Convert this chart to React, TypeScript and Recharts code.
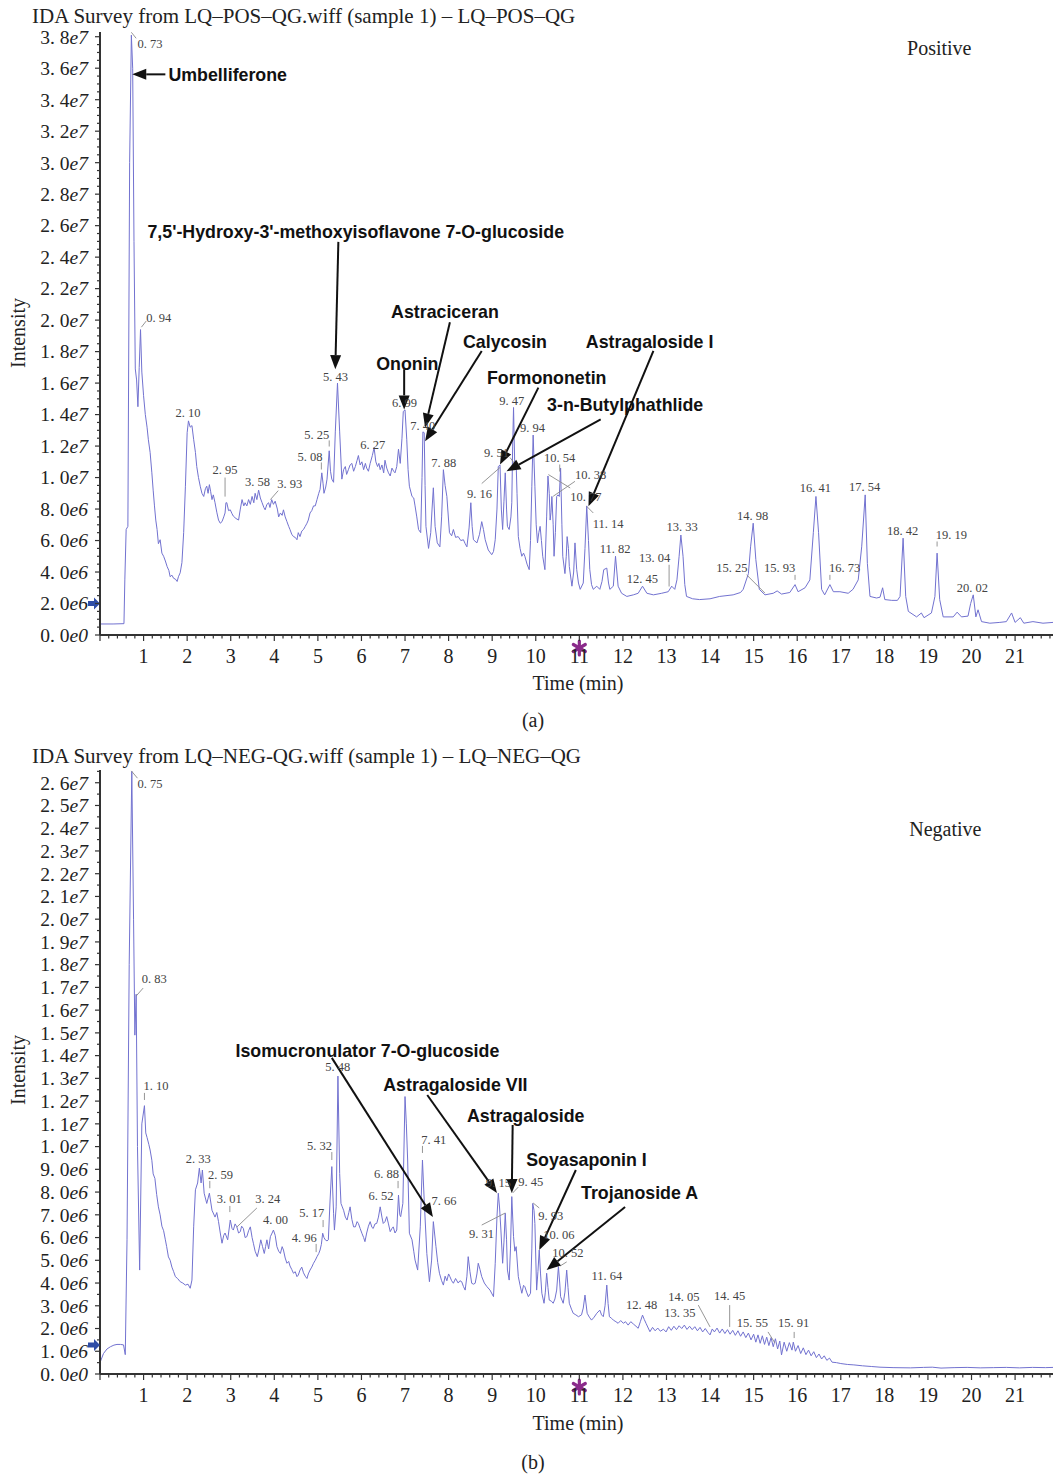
import React from 'react';
import { LineChart, Line, XAxis, YAxis, ReferenceDot, ReferenceLine } from 'recharts';

type Pt = [number, number];

// ---------- data: retention time (min), intensity (x1e6 counts) ----------
const posTrace: Pt[] = [
  [0,0.7],[0.3,0.7],[0.55,0.72],[0.57,3.5],[0.6,6.7],[0.64,6.9],[0.68,30],[0.72,38.1],[0.75,36],[0.78,25],[0.81,16.9],[0.84,16.2],[0.87,14.5],[0.9,17],[0.93,19.4],[0.96,16.7],[1.0,15.2],[1.04,14.0],[1.08,13.2],[1.11,12.4],[1.15,11.6],[1.19,10.3],[1.22,9.2],[1.25,8.2],[1.28,7.3],[1.31,6.7],[1.34,5.8],[1.38,6.05],[1.42,5.2],[1.46,5.0],[1.5,4.7],[1.54,4.35],[1.58,4.1],[1.61,3.7],[1.65,3.8],[1.69,3.6],[1.73,3.55],[1.77,3.4],[1.8,3.7],[1.84,3.95],[1.88,4.6],[1.92,6.5],[1.96,9.45],[2.0,12.85],[2.03,13.6],[2.07,13.2],[2.11,13.3],[2.15,12.4],[2.19,11.6],[2.22,10.7],[2.26,10.0],[2.3,9.45],[2.34,9.0],[2.38,8.8],[2.42,9.3],[2.45,9.45],[2.48,9.0],[2.51,9.55],[2.54,9.1],[2.57,8.6],[2.6,8.9],[2.64,8.4],[2.68,7.8],[2.72,7.3],[2.76,7.1],[2.8,7.2],[2.84,7.5],[2.87,7.75],[2.89,8.4],[2.91,8.4],[2.95,7.9],[2.99,7.95],[3.03,7.7],[3.06,7.55],[3.12,7.4],[3.18,7.3],[3.22,8.0],[3.26,8.6],[3.3,8.2],[3.33,8.4],[3.37,8.2],[3.41,8.6],[3.45,8.3],[3.49,8.8],[3.53,8.4],[3.56,9.0],[3.6,8.6],[3.64,9.2],[3.68,8.7],[3.72,8.4],[3.76,8.1],[3.79,7.95],[3.83,8.3],[3.87,8.4],[3.9,8.1],[3.94,8.6],[3.98,8.3],[4.02,8.5],[4.07,8.0],[4.1,7.5],[4.14,7.75],[4.18,7.6],[4.21,7.95],[4.25,7.5],[4.29,7.2],[4.33,6.9],[4.36,6.7],[4.4,6.4],[4.44,6.25],[4.48,6.2],[4.52,6.05],[4.55,6.5],[4.59,6.25],[4.63,6.6],[4.67,6.7],[4.71,6.9],[4.75,7.1],[4.78,7.3],[4.82,7.75],[4.86,7.9],[4.9,8.2],[4.94,8.2],[4.98,8.6],[5.02,9.0],[5.05,9.25],[5.09,10.3],[5.12,9.6],[5.14,9.0],[5.18,9.4],[5.21,9.9],[5.26,11.7],[5.29,10.4],[5.32,9.9],[5.36,9.7],[5.4,12.9],[5.45,16.0],[5.5,12.9],[5.55,9.9],[5.59,10.5],[5.63,10.7],[5.66,10.2],[5.7,10.5],[5.74,10.8],[5.78,10.9],[5.82,10.4],[5.86,10.7],[5.9,11.1],[5.93,11.4],[5.97,10.8],[6.01,11.0],[6.05,10.5],[6.09,10.9],[6.12,10.6],[6.16,10.4],[6.2,10.9],[6.25,11.4],[6.29,11.9],[6.33,11.0],[6.37,10.7],[6.4,10.9],[6.43,10.5],[6.47,10.8],[6.51,10.3],[6.54,11.1],[6.58,10.6],[6.62,10.3],[6.66,10.1],[6.7,10.6],[6.74,10.4],[6.77,10.3],[6.81,10.7],[6.85,11.8],[6.89,10.9],[6.93,12.5],[6.96,14.2],[7.0,14.3],[7.04,12.4],[7.07,10.5],[7.1,9.45],[7.16,8.8],[7.2,8.7],[7.23,8.2],[7.27,7.5],[7.31,6.7],[7.36,6.5],[7.39,10.0],[7.41,12.9],[7.44,12.85],[7.46,9.5],[7.48,6.9],[7.54,5.5],[7.59,6.5],[7.62,8.0],[7.65,9.35],[7.69,6.9],[7.74,5.85],[7.8,5.6],[7.84,7.5],[7.88,10.5],[7.92,9.5],[7.96,8.8],[8.02,6.5],[8.07,6.3],[8.11,6.7],[8.16,6.2],[8.22,6.25],[8.28,6.0],[8.34,6.05],[8.38,5.8],[8.42,5.6],[8.47,6.8],[8.51,8.4],[8.54,6.9],[8.57,6.05],[8.65,5.85],[8.71,6.4],[8.76,7.2],[8.8,6.7],[8.84,6.05],[8.91,5.4],[8.99,5.1],[9.03,5.3],[9.07,6.05],[9.11,8.0],[9.14,10.7],[9.18,10.8],[9.21,8.0],[9.24,6.7],[9.27,8.5],[9.3,10.3],[9.33,8.0],[9.35,6.9],[9.39,6.7],[9.43,7.5],[9.45,8.4],[9.47,12.0],[9.49,14.45],[9.52,10.5],[9.55,10.9],[9.57,9.0],[9.6,6.25],[9.64,5.5],[9.68,5.0],[9.72,5.2],[9.75,5.0],[9.8,4.5],[9.85,4.15],[9.88,6.0],[9.91,9.45],[9.94,12.7],[9.98,9.45],[10.01,7.0],[10.04,5.85],[10.07,6.5],[10.1,6.9],[10.13,6.0],[10.16,5.0],[10.21,4.15],[10.25,7.5],[10.28,10.1],[10.31,9.0],[10.33,7.3],[10.35,7.8],[10.37,8.8],[10.4,7.0],[10.42,5.0],[10.45,6.5],[10.48,8.8],[10.51,8.9],[10.54,8.8],[10.57,10.6],[10.6,7.0],[10.62,5.0],[10.67,3.9],[10.7,5.0],[10.72,6.25],[10.75,5.5],[10.77,4.35],[10.83,3.1],[10.87,4.0],[10.9,5.85],[10.94,4.15],[10.98,3.3],[11.02,2.9],[11.09,3.3],[11.13,5.5],[11.17,8.2],[11.21,6.0],[11.24,4.15],[11.28,3.2],[11.32,2.9],[11.4,3.1],[11.47,2.9],[11.52,3.4],[11.56,4.15],[11.63,4.25],[11.67,3.3],[11.7,2.9],[11.78,3.1],[11.83,5.0],[11.89,3.1],[11.97,2.65],[12.09,2.45],[12.24,2.55],[12.35,2.65],[12.45,3.1],[12.55,2.65],[12.7,2.55],[12.89,2.65],[13.04,2.75],[13.12,3.1],[13.19,2.9],[13.24,3.5],[13.29,5.0],[13.33,6.35],[13.38,5.0],[13.42,3.2],[13.46,2.45],[13.6,2.3],[13.76,2.25],[14.0,2.3],[14.22,2.45],[14.53,2.55],[14.7,2.7],[14.76,2.9],[14.88,3.9],[14.93,5.6],[14.99,7.1],[15.05,4.8],[15.13,2.9],[15.26,2.55],[15.45,2.65],[15.54,2.8],[15.64,2.6],[15.83,2.7],[15.95,3.2],[16.02,2.75],[16.18,3.0],[16.29,3.5],[16.37,6.5],[16.43,8.8],[16.49,6.5],[16.56,2.9],[16.63,2.55],[16.75,3.2],[16.83,2.75],[16.98,2.75],[17.17,2.65],[17.28,2.9],[17.4,3.5],[17.48,5.6],[17.56,8.9],[17.61,4.55],[17.67,2.45],[17.82,2.35],[17.9,2.4],[17.96,3.0],[18.01,2.25],[18.17,2.2],[18.3,2.2],[18.36,2.45],[18.43,6.15],[18.49,2.45],[18.55,1.5],[18.74,1.15],[18.85,1.4],[18.91,1.1],[19.08,1.4],[19.16,2.45],[19.21,5.2],[19.27,2.25],[19.35,1.15],[19.58,1.15],[19.67,1.45],[19.77,1.15],[19.92,1.2],[19.98,2.0],[20.04,2.55],[20.1,1.15],[20.15,1.6],[20.23,0.85],[20.42,0.75],[20.65,0.8],[20.8,0.85],[20.92,1.4],[21.0,0.8],[21.12,1.1],[21.2,0.75],[21.41,0.85],[21.64,0.75],[21.87,0.8]
];

const negTrace: Pt[] = [
  [0,1.8],[0.01,0.55],[0.08,0.9],[0.16,1.1],[0.24,1.2],[0.32,1.27],[0.39,1.3],[0.47,1.3],[0.54,1.28],[0.58,0.85],[0.62,5.9],[0.67,18],[0.73,26.5],[0.77,20],[0.8,14.9],[0.83,16.7],[0.86,10],[0.91,4.57],[0.96,11.0],[1.02,11.8],[1.05,10.6],[1.08,10.4],[1.12,10.1],[1.15,9.85],[1.19,9.4],[1.22,8.8],[1.26,8.6],[1.3,7.9],[1.34,7.35],[1.38,7.0],[1.42,6.5],[1.46,6.3],[1.5,5.9],[1.53,5.6],[1.57,5.15],[1.61,5.0],[1.65,4.7],[1.69,4.5],[1.73,4.28],[1.78,4.2],[1.84,4.06],[1.9,4.0],[1.96,3.91],[2.02,3.95],[2.07,3.77],[2.11,4.13],[2.15,6.5],[2.19,8.1],[2.24,8.4],[2.28,9.05],[2.32,8.4],[2.35,8.97],[2.39,7.95],[2.45,7.5],[2.51,7.95],[2.57,7.2],[2.64,6.9],[2.68,7.1],[2.72,6.7],[2.76,6.2],[2.8,5.75],[2.84,6.1],[2.87,6.2],[2.93,5.9],[2.99,6.77],[3.03,6.4],[3.06,6.33],[3.1,6.6],[3.14,6.47],[3.18,6.2],[3.22,6.26],[3.25,6.5],[3.29,6.4],[3.33,6.0],[3.37,6.04],[3.41,6.3],[3.45,6.47],[3.49,6.0],[3.52,5.75],[3.56,5.4],[3.61,5.16],[3.65,5.5],[3.69,5.9],[3.73,5.6],[3.77,5.3],[3.8,5.6],[3.83,5.9],[3.87,5.5],[3.91,6.04],[3.95,6.2],[3.98,6.33],[4.02,6.1],[4.06,5.6],[4.1,5.4],[4.14,5.3],[4.18,5.6],[4.21,5.45],[4.25,5.1],[4.29,4.87],[4.33,4.95],[4.36,4.75],[4.4,4.6],[4.44,4.43],[4.48,4.5],[4.52,4.28],[4.55,4.35],[4.59,4.57],[4.63,4.7],[4.67,4.45],[4.71,4.3],[4.75,4.2],[4.78,4.4],[4.82,4.57],[4.86,4.7],[4.9,4.87],[4.94,5.0],[4.98,5.16],[5.02,5.3],[5.05,5.45],[5.08,5.7],[5.11,6.19],[5.14,6.0],[5.17,5.9],[5.21,5.85],[5.24,5.9],[5.28,7.65],[5.32,9.12],[5.36,7.07],[5.38,6.33],[5.42,7.35],[5.46,13.1],[5.5,8.82],[5.53,7.5],[5.56,7.35],[5.59,7.2],[5.63,6.9],[5.67,6.77],[5.71,7.1],[5.74,7.35],[5.78,6.8],[5.82,6.47],[5.86,6.47],[5.9,6.7],[5.93,6.62],[5.97,6.4],[6.01,6.19],[6.05,6.0],[6.08,5.82],[6.12,6.2],[6.16,6.5],[6.2,6.7],[6.24,6.45],[6.27,6.4],[6.31,6.6],[6.35,6.62],[6.39,6.9],[6.43,7.35],[6.47,6.9],[6.5,6.62],[6.54,6.7],[6.58,6.92],[6.62,6.6],[6.66,6.26],[6.7,6.4],[6.73,6.47],[6.77,6.2],[6.81,6.33],[6.85,7.87],[6.88,7.0],[6.9,6.92],[6.95,7.5],[7.0,12.2],[7.03,11.0],[7.06,9.41],[7.1,6.19],[7.16,5.9],[7.2,5.4],[7.23,5.01],[7.29,4.57],[7.35,6.47],[7.4,9.41],[7.44,7.65],[7.5,5.3],[7.56,4.06],[7.61,5.01],[7.65,6.7],[7.71,5.6],[7.75,4.9],[7.79,4.43],[7.84,4.1],[7.88,3.91],[7.92,4.3],[7.96,4.1],[8.0,4.4],[8.03,4.28],[8.07,4.1],[8.11,3.99],[8.16,4.2],[8.22,4.0],[8.26,4.1],[8.3,4.06],[8.34,3.85],[8.38,3.69],[8.42,4.3],[8.45,5.16],[8.49,4.5],[8.53,3.99],[8.57,3.95],[8.61,3.99],[8.65,4.4],[8.68,4.87],[8.72,4.6],[8.76,4.28],[8.82,4.0],[8.88,3.84],[8.95,3.69],[9.03,3.4],[9.07,4.87],[9.11,6.92],[9.14,7.95],[9.17,7.3],[9.2,6.33],[9.24,4.87],[9.27,5.8],[9.3,7.07],[9.33,5.9],[9.35,4.57],[9.39,4.13],[9.42,5.5],[9.45,7.8],[9.49,6.04],[9.52,5.4],[9.55,5.6],[9.6,4.28],[9.64,3.9],[9.68,3.55],[9.72,3.9],[9.75,3.84],[9.79,3.6],[9.83,3.4],[9.88,3.55],[9.91,5.5],[9.93,7.5],[9.96,7.2],[9.98,6.62],[10.02,3.69],[10.05,4.5],[10.08,5.45],[10.11,4.4],[10.14,3.55],[10.19,3.11],[10.22,3.6],[10.25,4.43],[10.28,3.8],[10.31,3.25],[10.36,3.2],[10.4,3.11],[10.44,3.3],[10.48,3.69],[10.52,4.72],[10.55,4.0],[10.57,3.4],[10.63,3.11],[10.67,3.6],[10.71,4.57],[10.74,3.8],[10.77,3.11],[10.82,2.85],[10.86,2.67],[10.92,2.6],[10.98,2.52],[11.05,2.6],[11.09,2.9],[11.13,3.47],[11.18,2.67],[11.23,2.5],[11.28,2.37],[11.34,2.5],[11.4,2.67],[11.47,2.81],[11.51,2.6],[11.55,2.52],[11.59,3.0],[11.63,3.91],[11.66,3.1],[11.69,2.52],[11.74,2.45],[11.78,2.37],[11.84,2.3],[11.89,2.23],[11.95,2.35],[12.01,2.23],[12.06,2.3],[12.12,2.15],[12.18,2.3],[12.24,2.2],[12.3,2.1],[12.35,2.01],[12.4,2.3],[12.45,2.59],[12.49,2.4],[12.53,2.23],[12.62,1.86],[12.68,2.05],[12.74,1.9],[12.8,2.02],[12.86,1.88],[12.93,1.97],[12.99,1.85],[13.05,2.08],[13.11,1.92],[13.17,2.1],[13.23,1.95],[13.29,2.12],[13.35,2.0],[13.41,2.15],[13.47,1.96],[13.53,2.1],[13.59,1.95],[13.65,2.08],[13.71,1.9],[13.77,2.05],[13.83,1.85],[13.89,2.0],[13.95,1.83],[14.0,1.72],[14.05,1.98],[14.1,1.85],[14.16,2.02],[14.22,1.8],[14.28,1.98],[14.34,1.78],[14.4,1.95],[14.46,1.75],[14.52,1.92],[14.58,1.7],[14.64,1.9],[14.7,1.66],[14.76,1.85],[14.82,1.6],[14.88,1.8],[14.94,1.5],[15.0,1.75],[15.05,1.4],[15.1,1.72],[15.15,1.35],[15.2,1.68],[15.25,1.3],[15.3,1.62],[15.35,1.25],[15.4,1.6],[15.45,1.2],[15.5,1.55],[15.55,1.1],[15.6,1.45],[15.64,0.84],[15.7,1.4],[15.76,1.0],[15.82,1.38],[15.88,1.05],[15.91,1.4],[15.96,1.0],[16.02,1.25],[16.08,0.9],[16.14,1.15],[16.2,0.85],[16.26,1.05],[16.32,0.8],[16.38,0.98],[16.44,0.72],[16.5,0.88],[16.56,0.66],[16.62,0.8],[16.68,0.6],[16.74,0.7],[16.8,0.52],[16.9,0.5],[17.0,0.46],[17.15,0.42],[17.3,0.4],[17.5,0.36],[17.7,0.33],[17.9,0.3],[18.2,0.28],[18.6,0.27],[18.9,0.29],[19.1,0.3],[19.3,0.26],[19.6,0.28],[19.9,0.29],[20.2,0.27],[20.5,0.28],[20.8,0.29],[21.1,0.27],[21.4,0.29],[21.7,0.28],[21.87,0.29]
];

const timeTicks = [1,2,3,4,5,6,7,8,9,10,11,12,13,14,15,16,17,18,19,20,21];
const posIntensityTicks = [0,2,4,6,8,10,12,14,16,18,20,22,24,26,28,30,32,34,36,38];
const negIntensityTicks = [0,1,2,3,4,5,6,7,8,9,10,11,12,13,14,15,16,17,18,19,20,21,22,23,24,25,26];

// peak labels: [text, time, intensity]
const posPeakLabels: [string, number, number][] = [
  ['0. 73',0.86,37.58],['0. 94',1.06,20.19],['2. 10',1.73,14.14],['2. 95',2.58,10.51],['3. 58',3.33,9.75],['3. 93',4.07,9.62],
  ['5. 08',4.53,11.34],['5. 25',4.69,12.74],['5. 43',5.12,16.43],['6. 27',5.97,12.1],['6. 99',6.70,14.78],['7. 40',7.12,13.31],
  ['7. 88',7.60,10.96],['9. 16',8.42,8.98],['9. 51',8.81,11.59],['9. 47',9.16,14.9],['9. 94',9.64,13.18],['10. 54',10.19,11.27],
  ['10. 38',10.90,10.19],['10. 77',10.79,8.79],['11. 14',11.31,7.07],['11. 82',11.47,5.48],['13. 04',12.37,4.9],['12. 45',12.09,3.57],
  ['13. 33',13.0,6.88],['14. 98',14.62,7.58],['15. 25',14.14,4.27],['15. 93',15.24,4.27],['16. 41',16.06,9.36],['16. 73',16.73,4.27],
  ['17. 54',17.19,9.43],['18. 42',18.06,6.62],['19. 19',19.18,6.37],['20. 02',19.66,2.99]
];
const negPeakLabels: [string, number, number][] = [
  ['0. 75',0.86,25.95],['0. 83',0.96,17.37],['1. 10',1.0,12.66],['2. 33',1.97,9.45],['2. 59',2.48,8.75],['3. 01',2.68,7.7],
  ['3. 24',3.56,7.7],['4. 00',3.74,6.77],['5. 17',4.57,7.08],['4. 96',4.40,5.98],['5. 32',4.75,10.03],['5. 48',5.17,13.5],
  ['6. 88',6.29,8.8],['6. 52',6.16,7.83],['7. 41',7.37,10.29],['7. 66',7.61,7.61],['9. 31',8.47,6.16],['9. 15',8.86,8.4],
  ['9. 45',9.60,8.44],['9. 93',10.06,6.95],['10. 06',10.17,6.11],['10. 52',10.38,5.32],['11. 64',11.28,4.31],['12. 48',12.07,3.03],
  ['14. 05',13.04,3.39],['13. 35',12.95,2.68],['14. 45',14.09,3.43],['15. 55',14.61,2.24],['15. 91',15.56,2.24]
];

// leader lines: [t1, i1, t2, i2]
const posLeaders: [number, number, number, number][] = [
  [0.72,38.28,0.83,37.9],[0.95,19.55,1.06,19.94],[2.87,10.0,2.87,8.79],[3.91,8.6,4.09,9.17],[5.08,10.96,5.08,10.51],
  [5.26,12.36,5.26,11.97],[8.76,9.62,9.18,10.64],[9.41,11.27,9.55,10.76],[10.55,10.83,10.55,10.38],[10.29,10.19,10.79,9.34],
  [10.40,8.81,10.90,9.76],[11.17,8.17,11.32,7.75],[13.06,4.46,13.06,3.08],[14.84,3.82,15.26,2.66],[15.95,3.82,15.95,3.5],
  [16.75,3.82,16.75,3.5],[19.21,5.94,19.21,5.62]
];
const negLeaders: [number, number, number, number][] = [
  [0.72,26.52,0.86,26.2],[0.83,16.62,0.99,16.97],[1.02,12.36,1.02,12.05],[2.52,8.49,2.52,8.17],[2.98,7.39,2.98,7.12],
  [3.6,7.3,3.14,6.46],[5.12,6.77,5.12,6.46],[4.96,5.72,4.96,5.36],[5.32,9.76,5.32,9.41],[6.84,8.49,6.84,8.17],
  [7.40,10.03,7.40,9.72],[8.76,6.55,9.30,7.08],[9.47,7.96,9.60,8.22],[9.94,7.52,10.08,7.3],[10.56,4.75,10.71,4.93],
  [13.73,3.03,14.0,2.07],[14.45,3.03,14.45,2.07],[15.33,1.85,15.49,1.36],[15.93,1.85,15.93,1.58]
];

// compounds: [name, textT, textI, fromT, fromI, toT, toI]
const posCompounds: [string, number, number, number, number, number, number][] = [
  ['Umbelliferone',1.57,35.61,1.50,35.61,0.74,35.61],
  ["7,5'-Hydroxy-3'-methoxyisoflavone 7-O-glucoside",1.09,25.61,5.47,24.97,5.40,16.88],
  ['Astraciceran',6.68,20.51,8.03,19.87,7.46,13.18],
  ['Calycosin',8.33,18.66,8.76,18.04,7.46,12.31],
  ['Ononin',6.34,17.26,6.98,16.88,6.98,14.33],
  ['Formononetin',8.88,16.37,10.06,15.71,9.18,10.83],
  ['3-n-Butylphathlide',10.26,14.65,11.49,13.69,9.33,10.40],
  ['Astragaloside I',11.15,18.66,12.70,18.04,11.21,8.17]
];
const negCompounds: [string, number, number, number, number, number, number][] = [
  ['Isomucronulator 7-O-glucoside',3.11,14.2,5.32,13.9,7.64,6.9],
  ['Astragaloside VII',6.50,12.71,7.51,12.27,9.11,7.96],
  ['Astragaloside',8.42,11.35,9.47,10.95,9.45,7.96],
  ['Soyasaponin I',9.78,9.45,10.92,8.97,10.08,5.45],
  ['Trojanoside A',11.04,7.96,12.05,7.34,10.25,4.57]
];

// ---------- styling ----------
const SERIF = "'Liberation Serif', 'Times New Roman', serif";
const SANS = "'Liberation Sans', Arial, sans-serif";
const AXIS = '#333';
const TRACE = '#7272d0';
const X_MAX = 21.87;

function sciLabel(v: number): [string, string] {
  if (v === 0) return ['0. 0', 'e0'];
  const raw = v * 1e6;
  const exp = Math.floor(Math.log10(raw) + 1e-9);
  const mant = raw / Math.pow(10, exp);
  return [mant.toFixed(1).replace('.', '. '), 'e' + exp];
}

const isIn = (v: number, arr: number[]) => arr.some((a) => Math.abs(a - v) < 1e-6);

const arrowShape = (p: any) => {
  const { x1, y1, x2, y2 } = p;
  const dx = x2 - x1;
  const dy = y2 - y1;
  const len = Math.hypot(dx, dy) || 1;
  const ux = dx / len;
  const uy = dy / len;
  const hl = 14;
  const hw = 5.5;
  const bx = x2 - ux * hl;
  const by = y2 - uy * hl;
  return (
    <g>
      <line x1={x1} y1={y1} x2={bx} y2={by} stroke="#111" strokeWidth={2} />
      <polygon points={`${x2},${y2} ${bx - uy * hw},${by + ux * hw} ${bx + uy * hw},${by - ux * hw}`} fill="#111" />
    </g>
  );
};

interface ChromProps {
  trace: Pt[];
  yMax: number;
  yMajor: number[];
  yMinorStep: number;
  peaks: [string, number, number][];
  leaders: [number, number, number, number][];
  compounds: [string, number, number, number, number, number, number][];
  mode: string;
  modeAt: [number, number];
  markerY: number;
  marginTop: number;
  xAxisHeight: number;
}

function Chromatogram(props: ChromProps) {
  const { trace, yMax, yMajor, yMinorStep, peaks, leaders, compounds, mode, modeAt, markerY, marginTop, xAxisHeight } = props;
  const data = trace.map(([t, v]) => ({ t, v }));
  const yTicks: number[] = [];
  for (let i = 0; i * yMinorStep <= yMax + 1e-9; i++) yTicks.push(Math.round(i * yMinorStep * 100) / 100);
  const xTicks: number[] = [];
  for (let i = 0; i * 0.2 <= X_MAX; i++) xTicks.push(Math.round(i * 0.2 * 100) / 100);

  const xTick = (tp: any) => {
    const { x, y, payload } = tp;
    const v = payload.value as number;
    const major = isIn(v, timeTicks) || v === 0;
    return (
      <g>
        <line x1={x} x2={x} y1={y} y2={y + (major ? 6 : 3.5)} stroke={AXIS} strokeWidth={1.2} />
        {isIn(v, timeTicks) ? (
          <text x={x} y={y + 28} textAnchor="middle" fontFamily={SERIF} fontSize={20} fill="#222">{v}</text>
        ) : null}
      </g>
    );
  };
  const yTick = (tp: any) => {
    const { x, y, payload } = tp;
    const v = payload.value as number;
    const major = isIn(v, yMajor);
    const [m, e] = sciLabel(v);
    return (
      <g>
        <line x1={x - (major ? 5 : 3)} x2={x} y1={y} y2={y} stroke={AXIS} strokeWidth={1.2} />
        {major ? (
          <text x={x - 12} y={y} dy="0.35em" textAnchor="end" fontFamily={SERIF} fontSize={19.5} fill="#222">
            <tspan>{m}</tspan>
            <tspan fontStyle="italic">{e}</tspan>
          </text>
        ) : null}
      </g>
    );
  };

  return (
    <LineChart width={1053} height={700} data={data} margin={{ top: marginTop, right: 0, bottom: 0, left: 0 }}>
      <XAxis
        dataKey="t"
        type="number"
        domain={[0, X_MAX]}
        allowDataOverflow
        ticks={xTicks}
        interval={0}
        tickSize={0}
        tickMargin={0}
        tickLine={false}
        axisLine={{ stroke: AXIS, strokeWidth: 2 }}
        height={xAxisHeight}
        tick={xTick}
      />
      <YAxis
        type="number"
        domain={[0, yMax]}
        allowDataOverflow
        ticks={yTicks}
        interval={0}
        tickSize={0}
        tickMargin={0}
        tickLine={false}
        axisLine={{ stroke: AXIS, strokeWidth: 2 }}
        width={100}
        tick={yTick}
      />
      <Line dataKey="v" type="linear" dot={false} stroke={TRACE} strokeWidth={1} isAnimationActive={false} />
      {leaders.map(([t1, i1, t2, i2], k) => (
        <ReferenceLine
          key={'ld' + k}
          segment={[{ x: t1, y: i1 }, { x: t2, y: i2 }]}
          stroke="#8a8a8a"
          strokeWidth={0.9}
          ifOverflow="visible"
        />
      ))}
      {peaks.map(([txt, t, i], k) => (
        <ReferenceDot
          key={'pk' + k}
          x={t}
          y={i}
          r={1}
          ifOverflow="visible"
          shape={(p: any) => (
            <text x={p.cx} y={p.cy} dy="0.35em" fontFamily={SERIF} fontSize={12.5} fill="#444">{txt}</text>
          )}
        />
      ))}
      {compounds.map(([name, tt, ti, ft, fi, et, ei], k) => (
        <ReferenceLine
          key={'ar' + k}
          segment={[{ x: ft, y: fi }, { x: et, y: ei }]}
          ifOverflow="visible"
          shape={arrowShape}
        />
      ))}
      {compounds.map(([name, tt, ti], k) => (
        <ReferenceDot
          key={'cn' + k}
          x={tt}
          y={ti}
          r={1}
          ifOverflow="visible"
          shape={(p: any) => (
            <text x={p.cx} y={p.cy} dy="0.36em" fontFamily={SANS} fontWeight="bold" fontSize={17.8} fill="#111">{name}</text>
          )}
        />
      ))}
      <ReferenceDot
        x={modeAt[0]}
        y={modeAt[1]}
        r={1}
        ifOverflow="visible"
        shape={(p: any) => (
          <text x={p.cx} y={p.cy} dy="0.35em" fontFamily={SERIF} fontSize={20} fill="#222">{mode}</text>
        )}
      />
      <ReferenceDot
        x={0}
        y={markerY}
        r={1}
        ifOverflow="visible"
        shape={(p: any) => (
          <polygon
            points={`${p.cx - 12},${p.cy - 2.5} ${p.cx - 6},${p.cy - 2.5} ${p.cx - 6},${p.cy - 6} ${p.cx},${p.cy} ${p.cx - 6},${p.cy + 6} ${p.cx - 6},${p.cy + 2.5} ${p.cx - 12},${p.cy + 2.5}`}
            fill="#2f4da6"
          />
        )}
      />
      <ReferenceDot
        x={11}
        y={0}
        r={1}
        ifOverflow="visible"
        shape={(p: any) => {
          const cx = p.cx;
          const cy = p.cy + 13;
          return (
            <g stroke="#8b2a8b" strokeWidth={3.2} strokeLinecap="round">
              <line x1={cx} y1={cy - 7} x2={cx} y2={cy + 7} />
              <line x1={cx - 6} y1={cy - 3.5} x2={cx + 6} y2={cy + 3.5} />
              <line x1={cx - 6} y1={cy + 3.5} x2={cx + 6} y2={cy - 3.5} />
            </g>
          );
        }}
      />
    </LineChart>
  );
}

export default function App() {
  return (
    <div style={{ position: 'absolute', left: 0, top: 0, width: 1053, height: 1475, background: '#fff', overflow: 'hidden' }}>
      <div style={{ position: 'absolute', left: 0, top: 0 }}>
        <Chromatogram
          trace={posTrace}
          yMax={38.3}
          yMajor={posIntensityTicks}
          yMinorStep={0.5}
          peaks={posPeakLabels}
          leaders={posLeaders}
          compounds={posCompounds}
          mode="Positive"
          modeAt={[18.52, 37.26]}
          markerY={2.0}
          marginTop={32}
          xAxisHeight={65}
        />
      </div>
      <div style={{ position: 'absolute', left: 0, top: 740 }}>
        <Chromatogram
          trace={negTrace}
          yMax={26.56}
          yMajor={negIntensityTicks}
          yMinorStep={0.5}
          peaks={negPeakLabels}
          leaders={negLeaders}
          compounds={negCompounds}
          mode="Negative"
          modeAt={[18.57, 23.97]}
          markerY={1.28}
          marginTop={30}
          xAxisHeight={66}
        />
      </div>
      <svg width={1053} height={1475} style={{ position: 'absolute', left: 0, top: 0, pointerEvents: 'none' }}>
        <g fontFamily={SERIF} fill="#222">
          <text x={32} y={23} fontSize={21}>IDA Survey from LQ–POS–QG.wiff (sample 1) – LQ–POS–QG</text>
          <text x={18} y={333} fontSize={20} textAnchor="middle" dominantBaseline="central" transform="rotate(-90 18 333)">Intensity</text>
          <text x={578} y={690} fontSize={20} textAnchor="middle">Time (min)</text>
          <text x={533} y={727} fontSize={20} textAnchor="middle">(a)</text>
          <text x={32} y={763} fontSize={21}>IDA Survey from LQ–NEG-QG.wiff (sample 1) – LQ–NEG–QG</text>
          <text x={18} y={1070} fontSize={20} textAnchor="middle" dominantBaseline="central" transform="rotate(-90 18 1070)">Intensity</text>
          <text x={578} y={1430} fontSize={20} textAnchor="middle">Time (min)</text>
          <text x={533} y={1469} fontSize={20} textAnchor="middle">(b)</text>
        </g>
      </svg>
    </div>
  );
}
